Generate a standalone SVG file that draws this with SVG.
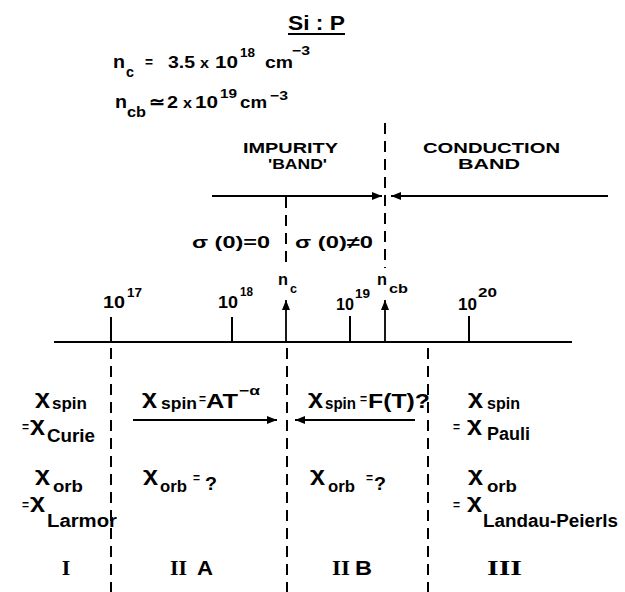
<svg xmlns="http://www.w3.org/2000/svg" width="625" height="592" viewBox="0 0 625 592">
<style>
text { font-family: "Liberation Sans", Arial, sans-serif; font-weight: bold; fill: #000; }
.rm { font-family: "Liberation Serif", "Times New Roman", serif; font-weight: bold; font-size: 22px; }
.ln { stroke: #000; stroke-width: 2; fill: none; }
.ar { stroke: #000; stroke-width: 1.8; fill: none; marker-end: url(#ah); }
.ds { stroke: #000; stroke-width: 2; fill: none; stroke-dasharray: 11 7; }
.chi { font-size: 20px; }
.sub { font-size: 17px; }
.big { font-size: 18px; }
.eq { font-size: 12px; }
</style>
<defs>
<marker id="ah" viewBox="0 0 10 8" refX="10" refY="4" markerWidth="10" markerHeight="8" markerUnits="userSpaceOnUse" orient="auto">
<path d="M0,0 L10,4 L0,8 z" fill="#000"/>
</marker>
</defs>

<g id="title">
<text x="288" y="30" font-size="21" font-weight="normal" textLength="57" lengthAdjust="spacingAndGlyphs">Si : P</text>
<line class="ln" x1="288" y1="34" x2="345" y2="34"/>
</g>

<g id="formula-nc">
<text x="113" y="68" font-size="18" textLength="12" lengthAdjust="spacingAndGlyphs">n</text>
<text x="126" y="77" font-size="14" textLength="8" lengthAdjust="spacingAndGlyphs">c</text>
<text x="145" y="67" font-size="14" textLength="8" lengthAdjust="spacingAndGlyphs">=</text>
<text x="168" y="68" font-size="16" textLength="27" lengthAdjust="spacingAndGlyphs">3.5</text>
<text x="200" y="68" font-size="14" textLength="9" lengthAdjust="spacingAndGlyphs">x</text>
<text x="215" y="68" font-size="16" textLength="23" lengthAdjust="spacingAndGlyphs">10</text>
<text x="240" y="57" font-size="13" textLength="15" lengthAdjust="spacingAndGlyphs">18</text>
<text x="265" y="68" font-size="17" textLength="28" lengthAdjust="spacingAndGlyphs">cm</text>
<text x="292" y="55" font-size="13" textLength="18" lengthAdjust="spacingAndGlyphs">−3</text>
</g>

<g id="formula-ncb">
<text x="115" y="108" font-size="18" textLength="12" lengthAdjust="spacingAndGlyphs">n</text>
<text x="127" y="117" font-size="14" textLength="19" lengthAdjust="spacingAndGlyphs">cb</text>
<text x="149" y="108" font-size="18" textLength="16" lengthAdjust="spacingAndGlyphs">≃</text>
<text x="167" y="108" font-size="16" textLength="11" lengthAdjust="spacingAndGlyphs">2</text>
<text x="183" y="108" font-size="14" textLength="9" lengthAdjust="spacingAndGlyphs">x</text>
<text x="195" y="108" font-size="16" textLength="23" lengthAdjust="spacingAndGlyphs">10</text>
<text x="220" y="98" font-size="13" textLength="17" lengthAdjust="spacingAndGlyphs">19</text>
<text x="240" y="108" font-size="17" textLength="27" lengthAdjust="spacingAndGlyphs">cm</text>
<text x="270" y="100" font-size="13" textLength="18" lengthAdjust="spacingAndGlyphs">−3</text>
</g>

<g id="impurity-band">
<text x="243" y="153" font-size="15.5" textLength="95" lengthAdjust="spacingAndGlyphs">IMPURITY</text>
<text x="268" y="169" font-size="15.5" textLength="59" lengthAdjust="spacingAndGlyphs">'BAND'</text>
</g>
<g id="conduction-band">
<text x="423" y="153" font-size="15.5" textLength="137" lengthAdjust="spacingAndGlyphs">CONDUCTION</text>
<text x="458" y="169" font-size="15.5" textLength="62" lengthAdjust="spacingAndGlyphs">BAND</text>
</g>

<g id="sigma-labels">
<text x="192" y="248" font-size="17" textLength="78" lengthAdjust="spacingAndGlyphs">σ (0)=0</text>
<text x="295" y="248" font-size="17" textLength="78" lengthAdjust="spacingAndGlyphs">σ (0)≠0</text>
</g>

<g id="axis">
<line class="ln" x1="54" y1="342" x2="572" y2="342"/>
<line class="ln" x1="111" y1="317" x2="111" y2="342"/>
<line class="ln" x1="232" y1="317" x2="232" y2="342"/>
<line class="ln" x1="350" y1="316" x2="350" y2="342"/>
<line class="ln" x1="469" y1="316" x2="469" y2="342"/>
<text x="103" y="308" font-size="17" textLength="22" lengthAdjust="spacingAndGlyphs">10</text>
<text x="127" y="297" font-size="13" textLength="15" lengthAdjust="spacingAndGlyphs">17</text>
<text x="218" y="308" font-size="17" textLength="20" lengthAdjust="spacingAndGlyphs">10</text>
<text x="240" y="296" font-size="13" textLength="13" lengthAdjust="spacingAndGlyphs">18</text>
<text x="336" y="310" font-size="17" textLength="18" lengthAdjust="spacingAndGlyphs">10</text>
<text x="355" y="298" font-size="13" textLength="15" lengthAdjust="spacingAndGlyphs">19</text>
<text x="458" y="310" font-size="17" textLength="19" lengthAdjust="spacingAndGlyphs">10</text>
<text x="478" y="297" font-size="13" textLength="19" lengthAdjust="spacingAndGlyphs">20</text>
</g>

<g id="nc-marker">
<text x="278" y="285" font-size="16" textLength="10" lengthAdjust="spacingAndGlyphs">n</text>
<text x="290" y="293" font-size="13" textLength="7" lengthAdjust="spacingAndGlyphs">c</text>
</g>
<g id="ncb-marker">
<text x="377" y="285" font-size="16" textLength="10" lengthAdjust="spacingAndGlyphs">n</text>
<text x="389" y="293" font-size="13" textLength="19" lengthAdjust="spacingAndGlyphs">cb</text>
</g>

<g id="region-I">
<text class="chi" x="35" y="404" textLength="15" lengthAdjust="spacingAndGlyphs">χ</text>
<text class="sub" x="52" y="409" textLength="35" lengthAdjust="spacingAndGlyphs">spin</text>
<text class="eq" x="22" y="431">=</text>
<text class="chi" x="30" y="431" textLength="15" lengthAdjust="spacingAndGlyphs">χ</text>
<text class="big" x="47" y="442" textLength="48" lengthAdjust="spacingAndGlyphs">Curie</text>
<text class="chi" x="35" y="481" textLength="15" lengthAdjust="spacingAndGlyphs">χ</text>
<text class="sub" x="53" y="492" textLength="30" lengthAdjust="spacingAndGlyphs">orb</text>
<text class="eq" x="22" y="509">=</text>
<text class="chi" x="30" y="508" textLength="15" lengthAdjust="spacingAndGlyphs">χ</text>
<text class="big" x="47" y="527" textLength="70" lengthAdjust="spacingAndGlyphs">Larmor</text>
<text class="rm" x="66" y="575" text-anchor="middle">I</text>
</g>

<g id="region-IIA">
<text class="chi" x="142" y="404" textLength="15" lengthAdjust="spacingAndGlyphs">χ</text>
<text class="sub" x="161" y="409" textLength="36" lengthAdjust="spacingAndGlyphs">spin</text>
<text class="eq" x="199" y="403">=</text>
<text x="206" y="408" font-size="20" textLength="32" lengthAdjust="spacingAndGlyphs">AT</text>
<text x="239" y="395" font-size="13" textLength="21" lengthAdjust="spacingAndGlyphs">−α</text>
<text class="chi" x="143" y="481" textLength="15" lengthAdjust="spacingAndGlyphs">χ</text>
<text class="sub" x="160" y="492" textLength="27" lengthAdjust="spacingAndGlyphs">orb</text>
<text class="eq" x="193" y="482">=</text>
<text x="205" y="490" font-size="18" textLength="12" lengthAdjust="spacingAndGlyphs">?</text>
<text class="rm" x="170" y="575" textLength="17" lengthAdjust="spacingAndGlyphs">II</text>
<text x="197" y="575" font-size="21" textLength="16" lengthAdjust="spacingAndGlyphs">A</text>
</g>

<g id="region-IIB">
<text class="chi" x="308" y="404" textLength="15" lengthAdjust="spacingAndGlyphs">χ</text>
<text class="sub" x="325" y="409" textLength="31" lengthAdjust="spacingAndGlyphs">spin</text>
<text class="eq" x="360" y="403">=</text>
<text x="368" y="408" font-size="20" textLength="62" lengthAdjust="spacingAndGlyphs">F(T)?</text>
<text class="chi" x="310" y="481" textLength="15" lengthAdjust="spacingAndGlyphs">χ</text>
<text class="sub" x="328" y="492" textLength="27" lengthAdjust="spacingAndGlyphs">orb</text>
<text class="eq" x="366" y="482">=</text>
<text x="374" y="490" font-size="18" textLength="12" lengthAdjust="spacingAndGlyphs">?</text>
<text class="rm" x="332" y="575" textLength="18" lengthAdjust="spacingAndGlyphs">II</text>
<text x="355" y="575" font-size="21" textLength="17" lengthAdjust="spacingAndGlyphs">B</text>
</g>

<g id="region-III">
<text class="chi" x="468" y="404" textLength="15" lengthAdjust="spacingAndGlyphs">χ</text>
<text class="sub" x="487" y="409" textLength="33" lengthAdjust="spacingAndGlyphs">spin</text>
<text class="eq" x="453" y="431">=</text>
<text class="chi" x="467" y="431" textLength="15" lengthAdjust="spacingAndGlyphs">χ</text>
<text class="big" x="487" y="440" textLength="43" lengthAdjust="spacingAndGlyphs">Pauli</text>
<text class="chi" x="468" y="481" textLength="15" lengthAdjust="spacingAndGlyphs">χ</text>
<text class="sub" x="487" y="492" textLength="30" lengthAdjust="spacingAndGlyphs">orb</text>
<text class="eq" x="453" y="509">=</text>
<text class="chi" x="467" y="508" textLength="15" lengthAdjust="spacingAndGlyphs">χ</text>
<text class="big" x="483" y="527" textLength="135" lengthAdjust="spacingAndGlyphs">Landau-Peierls</text>
<text class="rm" x="487" y="575" textLength="35" lengthAdjust="spacingAndGlyphs">III</text>
</g>

<g id="connectors">
<line class="ar" x1="212" y1="196" x2="382" y2="196"/>
<line class="ar" x1="608" y1="196" x2="391" y2="196"/>
<line class="ar" x1="286" y1="342" x2="286" y2="300"/>
<line class="ar" x1="385" y1="342" x2="385" y2="300"/>
<line class="ar" x1="133" y1="420" x2="277" y2="420"/>
<line class="ar" x1="415" y1="420" x2="295" y2="420"/>
<line class="ds" x1="286" y1="197" x2="286" y2="268"/>
<line class="ds" x1="385" y1="123" x2="385" y2="268"/>
<line class="ds" x1="111" y1="348" x2="111" y2="592"/>
<line class="ds" x1="287" y1="348" x2="287" y2="592"/>
<line class="ds" x1="428" y1="348" x2="428" y2="592"/>
</g>
</svg>
